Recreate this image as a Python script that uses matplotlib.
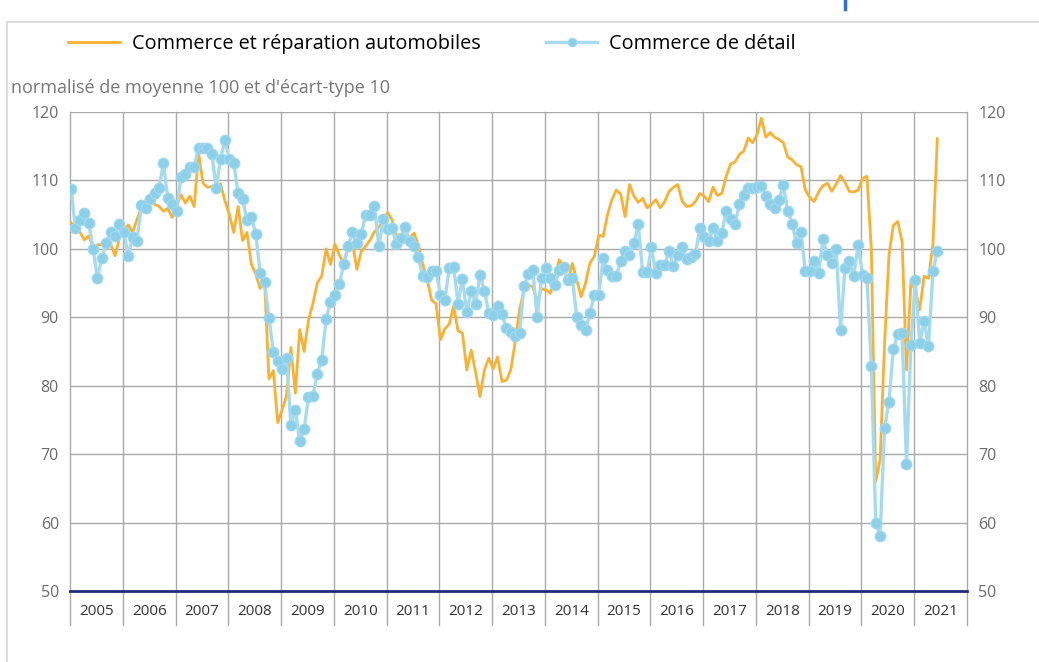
import numpy as np
import matplotlib
matplotlib.use("Agg")
import matplotlib.pyplot as plt
from matplotlib.lines import Line2D
from matplotlib.patches import Rectangle

plt.rcParams['font.family'] = ['Open Sans', 'DejaVu Sans']

# Monthly series, January 2005 -> June 2021
auto = [
    103.8, 103.2, 102.5, 101.3, 101.9, 100.3, 100.6, 100.6, 100.5, 100.7, 99.0, 101.6,   # 2005
    102.6, 103.5, 102.4, 104.3, 106.0, 107.1, 107.2, 106.5, 106.2, 105.5, 105.9, 104.6,  # 2006
    106.2, 107.9, 106.7, 107.7, 106.2, 114.0, 109.6, 109.0, 109.1, 109.4, 109.5, 107.0,  # 2007
    105.0, 102.4, 106.2, 101.2, 102.4, 97.8, 96.3, 94.2, 95.5, 81.0, 82.2, 74.6,         # 2008
    76.5, 78.5, 85.6, 78.9, 88.2, 85.0, 89.6, 92.0, 95.0, 96.0, 100.0, 97.7,             # 2009
    100.7, 99.1, 97.9, 100.0, 100.8, 97.0, 99.6, 100.4, 101.3, 102.5, 103.2, 104.0,      # 2010
    105.3, 104.2, 102.0, 101.6, 101.2, 101.6, 102.3, 100.6, 97.7, 95.5, 92.5, 92.0,      # 2011
    86.7, 88.3, 89.0, 91.6, 88.0, 87.7, 82.3, 85.2, 82.0, 78.4, 82.3, 84.0,              # 2012
    82.5, 84.2, 80.6, 80.8, 82.3, 86.4, 91.1, 94.0, 94.7, 94.5, 92.3, 94.2,              # 2013
    94.0, 93.5, 95.5, 98.4, 97.4, 95.2, 97.9, 95.5, 93.0, 95.0, 97.9, 98.9,              # 2014
    102.0, 101.8, 105.0, 107.2, 108.6, 108.0, 104.7, 109.4, 107.7, 106.8, 107.4, 106.0,  # 2015
    106.5, 107.2, 106.0, 106.9, 108.4, 109.0, 109.4, 106.9, 106.2, 106.3, 106.9, 108.1,  # 2016
    107.7, 106.9, 109.0, 107.8, 108.1, 110.6, 112.4, 112.7, 113.8, 114.3, 116.2, 115.5,  # 2017
    116.7, 119.1, 116.3, 117.0, 116.3, 116.0, 115.5, 113.4, 113.0, 112.3, 112.0, 108.6,  # 2018
    107.5, 106.9, 108.3, 109.2, 109.6, 108.4, 109.5, 110.7, 109.7, 108.4, 108.3, 108.6,  # 2019
    110.3, 110.6, 100.0, 66.0, 69.2, 86.0, 99.0, 103.4, 104.0, 101.0, 82.3, 95.2,        # 2020
    94.0, 91.1, 96.0, 95.7, 100.6, 116.1,                                                # 2021
]

detail = [
    108.8, 103.0, 104.2, 105.2, 103.8, 100.0, 95.8, 98.6, 100.9, 102.5, 101.9, 103.7,    # 2005
    102.4, 99.0, 101.7, 101.2, 106.4, 106.0, 107.3, 108.1, 108.9, 112.5, 107.4, 106.6,   # 2006
    105.6, 110.5, 110.9, 112.0, 112.0, 114.8, 114.8, 114.7, 113.9, 108.9, 113.2, 115.9,  # 2007
    113.1, 112.5, 108.1, 107.3, 104.2, 104.6, 102.2, 96.5, 95.1, 89.9, 85.0, 83.6,       # 2008
    82.4, 84.1, 74.2, 76.5, 71.9, 73.7, 78.3, 78.5, 81.7, 83.8, 89.7, 92.3,              # 2009
    93.3, 94.8, 97.8, 100.4, 102.4, 100.9, 102.2, 104.9, 105.0, 106.2, 100.4, 104.3,     # 2010
    102.9, 103.0, 100.7, 101.6, 103.2, 101.1, 100.4, 98.8, 96.0, 95.9, 96.7, 96.8,       # 2011
    93.3, 92.5, 97.2, 97.4, 92.0, 95.6, 90.8, 93.8, 92.0, 96.2, 93.9, 90.6,              # 2012
    90.3, 91.7, 90.5, 88.4, 87.9, 87.2, 87.7, 94.5, 96.3, 96.9, 90.0, 95.7,              # 2013
    97.2, 95.7, 94.7, 96.9, 97.4, 95.5, 95.7, 90.1, 88.9, 88.1, 90.6, 93.3,              # 2014
    93.3, 98.6, 96.9, 96.0, 96.1, 98.2, 99.7, 99.1, 100.8, 103.6, 96.6, 96.6,            # 2015
    100.2, 96.4, 97.6, 97.7, 99.7, 97.5, 99.1, 100.3, 98.5, 98.8, 99.2, 103.1,           # 2016
    101.8, 101.2, 103.1, 101.2, 102.3, 105.6, 104.3, 103.7, 106.5, 107.8, 108.9, 108.9,  # 2017
    109.0, 109.2, 107.7, 106.6, 105.9, 107.1, 109.3, 105.5, 103.6, 100.8, 102.4, 96.7,   # 2018
    96.7, 98.2, 96.5, 101.4, 99.1, 97.9, 100.0, 88.2, 97.2, 98.2, 96.0, 100.6,           # 2019
    96.2, 95.7, 82.9, 60.0, 58.0, 73.8, 77.6, 85.3, 87.5, 87.7, 68.6, 86.0,              # 2020
    95.5, 86.3, 89.4, 85.8, 96.7, 99.7,                                                  # 2021
]

years = list(range(2005, 2022))
yticks = [50, 60, 70, 80, 90, 100, 110, 120]

ORANGE = '#f9b133'
BLUE_LINE = '#a6dbef'
BLUE_MARK = '#8ccfe8'
GRID = '#a9a9a9'

# month positions as fractional years
t = 2005 + np.arange(len(auto)) / 12 + 0.02

fig = plt.figure(figsize=(10.39, 6.62), dpi=100)
ax = fig.add_axes([70 / 1039, 1 - 591 / 662, (967 - 70) / 1039, (591 - 112) / 662])

ax.set_xlim(2005, 2022)
ax.set_ylim(50, 120)
for s in ax.spines.values():
    s.set_visible(False)

# horizontal grid
for v in yticks[1:]:
    ax.axhline(v, color=GRID, lw=1.0, zorder=1)
ax.axhline(50, color='#1f2a7a', lw=2.0, zorder=5, clip_on=False)

# year separators, running below the axis
for yr in years + [2022]:
    ax.plot([yr, yr], [45.0, 120], color=GRID, lw=1.0, zorder=1, clip_on=False)
for yr in years:
    ax.text(yr + 0.5, 47.0, str(yr), ha='center', va='center', fontsize=11, color='#333333')

ax.plot(t, auto, color=ORANGE, lw=2.0, zorder=3, label='Commerce et réparation automobiles')
ax.plot(t, detail, color=BLUE_LINE, lw=2.4, marker='o', markersize=7.5,
        markerfacecolor=BLUE_MARK, markeredgecolor='#9fd8ee', markeredgewidth=1.0,
        zorder=4, label='Commerce de détail')

ax.set_xticks([])
ax.set_yticks(yticks)
ax.set_yticklabels([str(v) for v in yticks])
ax.tick_params(axis='y', length=0, labelsize=11.5, labelcolor='#6b6b6b',
               left=False, right=False, labelleft=True, labelright=True, pad=8)

fig.text(11 / 1039, 1 - 88 / 662, "normalisé de moyenne 100 et d'écart-type 10",
         fontsize=13, color='#777777', va='center', ha='left')

handles, labels = ax.get_legend_handles_labels()
fig.legend(handles, labels, loc='center left', bbox_to_anchor=(68 / 1039, 1 - 44 / 662),
           ncol=2, frameon=False, fontsize=14.3, handlelength=2.6, handletextpad=0.6,
           columnspacing=3.3, borderaxespad=0, borderpad=0, markerscale=0.8)

# outer frame and little blue mark at the top
fig.add_artist(Rectangle((7 / 1039, -0.05), 1.1, 1 - 22 / 662 + 0.05, transform=fig.transFigure,
                         fill=False, edgecolor='#dcdcdc', lw=1.5))
fig.add_artist(Line2D([845 / 1039, 845 / 1039], [1, 1 - 9 / 662], transform=fig.transFigure,
                      color='#2f6fd6', lw=2.5))

fig.savefig('out.png', dpi=100)
